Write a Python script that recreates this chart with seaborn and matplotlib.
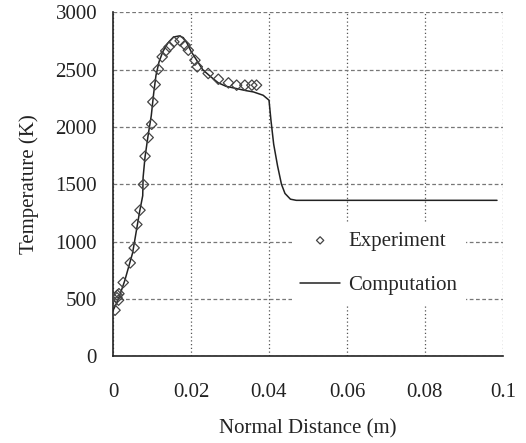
import matplotlib
matplotlib.use("Agg")
import matplotlib.pyplot as plt
import seaborn as sns
import pandas as pd

# Experimental data (Normal distance m, Temperature K)
exp_x = [0.0005, 0.0011, 0.0014, 0.0010, 0.0015, 0.0026, 0.0044, 0.0054, 0.0061, 0.0069,
         0.0078, 0.0082, 0.0090, 0.0099, 0.0102, 0.0108, 0.0116, 0.0126, 0.0135, 0.0144,
         0.0156, 0.0172, 0.0185, 0.0193, 0.0210, 0.0216, 0.0244, 0.0270, 0.0296, 0.0317,
         0.0338, 0.0356, 0.0368]
exp_y = [401, 532, 489, 510, 545, 643, 814, 945, 1149, 1274,
         1498, 1745, 1908, 2024, 2219, 2370, 2504, 2612, 2664, 2700,
         2743, 2752, 2714, 2670, 2583, 2525, 2467, 2417, 2385, 2365,
         2365, 2365, 2365]

# Computation curve
comp_x = [0.0, 0.001, 0.002, 0.003, 0.004, 0.005, 0.006, 0.0068, 0.0076, 0.0077,
          0.0082, 0.009, 0.0098, 0.0104, 0.0110, 0.0118, 0.0128, 0.014, 0.0155, 0.017,
          0.018, 0.019, 0.020, 0.0215, 0.023, 0.025, 0.027, 0.029, 0.0317, 0.034,
          0.036, 0.0385, 0.0400, 0.0405, 0.0412, 0.0422, 0.0432, 0.0441, 0.0455, 0.047,
          0.0985]
comp_y = [400, 470, 560, 660, 780, 900, 1100, 1260, 1400, 1560,
          1740, 1930, 2100, 2290, 2450, 2570, 2660, 2730, 2785, 2795,
          2780, 2730, 2660, 2580, 2500, 2440, 2385, 2355, 2335, 2318,
          2306, 2277, 2234, 2060, 1850, 1660, 1500, 1420, 1370, 1360,
          1360]

x_ticks = [0, 0.02, 0.04, 0.06, 0.08, 0.1]
x_tick_labels = ["0", "0.02", "0.04", "0.06", "0.08", "0.1"]
y_ticks = [0, 500, 1000, 1500, 2000, 2500, 3000]
y_tick_labels = ["0", "500", "1000", "1500", "2000", "2500", "3000"]

sns.set_style("white")
plt.rcParams["font.family"] = ["Liberation Serif", "DejaVu Serif"]

exp_df = pd.DataFrame({"x": exp_x, "y": exp_y})
comp_df = pd.DataFrame({"x": comp_x, "y": comp_y})

fig = plt.figure(figsize=(5.26, 4.43), dpi=100)
ax = fig.add_axes([0.215, 0.196, 0.741, 0.776])

sns.lineplot(data=comp_df, x="x", y="y", ax=ax, color="#222222", lw=1.1,
             label="Computation", sort=False, zorder=3)
sns.scatterplot(data=exp_df, x="x", y="y", ax=ax, marker="D", s=28,
                facecolor="none", edgecolor="#444444", linewidth=0.9,
                label="Experiment", zorder=4)

ax.set_xlim(0, 0.1)
ax.set_ylim(0, 3000)
ax.set_xticks(x_ticks)
ax.set_xticklabels(x_tick_labels)
ax.set_yticks(y_ticks)
ax.set_yticklabels(y_tick_labels)

ax.yaxis.grid(True, linestyle=(0, (3, 2)), color="#777777", lw=0.9)
ax.xaxis.grid(True, linestyle=(0, (1, 2)), color="#555555", lw=0.9)
ax.set_axisbelow(True)

for s in ["top", "right"]:
    ax.spines[s].set_visible(False)
for s in ["left", "bottom"]:
    ax.spines[s].set_color("#222222")
    ax.spines[s].set_linewidth(1.2)

ax.tick_params(axis="y", direction="inout", length=9, width=1.0, colors="#222222",
               labelsize=15, pad=7)
ax.tick_params(axis="x", direction="out", length=6, width=1.0, colors="#222222",
               labelsize=15, pad=13)

ax.set_xlabel("Normal Distance (m)", fontsize=15, color="#222222", labelpad=13)
ax.set_ylabel("Temperature (K)", fontsize=15, color="#222222", labelpad=12)

handles, labels = ax.get_legend_handles_labels()
order = [labels.index("Experiment"), labels.index("Computation")]
leg = ax.legend([handles[i] for i in order], [labels[i] for i in order],
                loc="center left", bbox_to_anchor=(0.459, 0.27), borderaxespad=0,
                frameon=True, fancybox=False, framealpha=1, edgecolor="none",
                facecolor="white", fontsize=15, handlelength=1.9, handletextpad=0.4,
                labelspacing=1.2, borderpad=0.4, markerscale=0.7)

fig.savefig("out.png", dpi=100)
